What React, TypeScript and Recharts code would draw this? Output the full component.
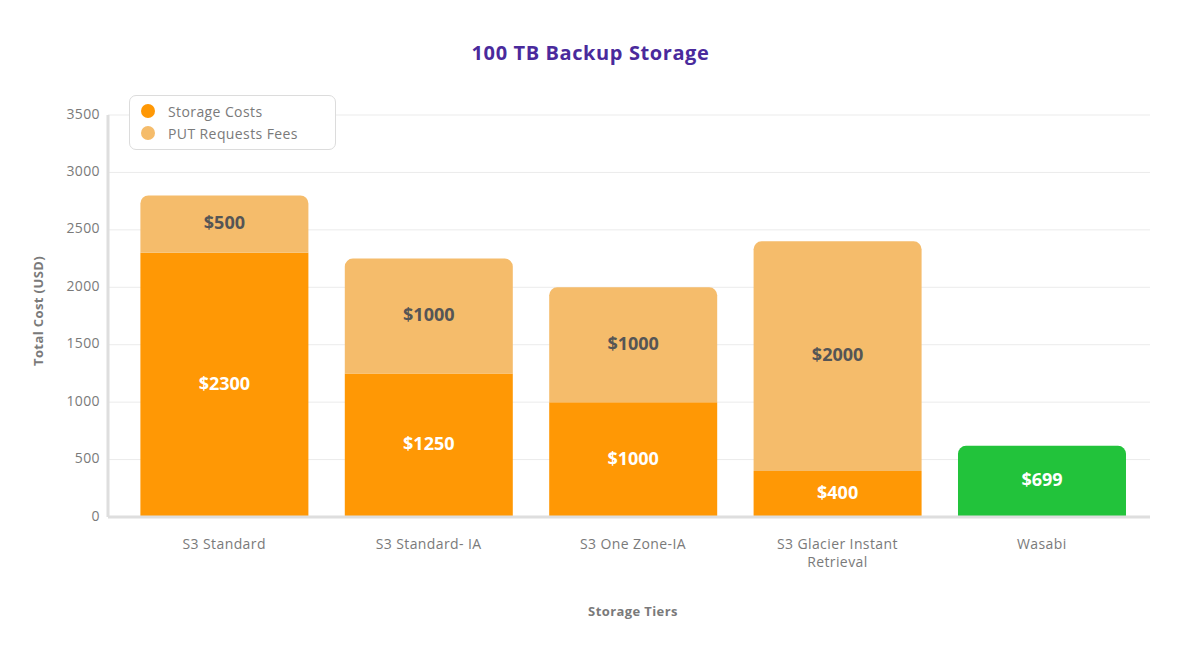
import React from 'react';
import { BarChart, Bar, XAxis, YAxis, CartesianGrid, LabelList } from 'recharts';

const categories = ['S3 Standard', 'S3 Standard- IA', 'S3 One Zone-IA', 'S3 Glacier Instant Retrieval', 'Wasabi'];
const storageCosts = [2300, 1250, 1000, 400, null];
const putFees = [500, 1000, 1000, 2000, null];
const wasabiDrawn = [null, null, null, null, 620];
const wasabiQuoted = [null, null, null, null, 699];
const yTicks = [0, 500, 1000, 1500, 2000, 2500, 3000, 3500];
const legendItems = ['Storage Costs', 'PUT Requests Fees'];

const FONT = '"Open Sans", sans-serif';
const C_STORAGE = '#FF9805';
const C_PUT = '#F5BC6B';
const C_WASABI = '#22C33B';
const legendColors = [C_STORAGE, C_PUT];

const data = categories.map((name, i) => ({
  name,
  storage: storageCosts[i],
  put: putFees[i],
  wasabi: wasabiDrawn[i],
  wasabiQuoted: wasabiQuoted[i],
}));

const wrap = (s: string, max: number) => {
  const words = s.split(' ');
  const lines: string[] = [];
  let cur = '';
  for (const w of words) {
    const t = cur ? cur + ' ' + w : w;
    if (t.length > max && cur) {
      lines.push(cur);
      cur = w;
    } else cur = t;
  }
  if (cur) lines.push(cur);
  return lines;
};

const XTick = (props: any) => {
  const { x, y, payload } = props;
  const lines = wrap(String(payload.value), 20);
  return (
    <text x={x} y={y + 24} textAnchor="middle" fill="#7a7a7a" fontSize={14} letterSpacing={0.4} fontFamily={FONT}>
      {lines.map((l, i) => (
        <tspan key={i} x={x} dy={i === 0 ? 0 : 18}>
          {l}
        </tspan>
      ))}
    </text>
  );
};

const YTick = (props: any) => {
  const { x, y, payload } = props;
  return (
    <text
      x={x}
      y={y - 2}
      textAnchor="end"
      dominantBaseline="central"
      fill="#7a7a7a"
      fontSize={14}
      letterSpacing={0.4}
      fontFamily={FONT}
    >
      {payload.value}
    </text>
  );
};

const makeLabel = (color: string) => (props: any) => {
  const { x, y, width, height, value } = props;
  if (value === null || value === undefined) return null;
  return (
    <text
      x={x + width / 2}
      y={y + height / 2 - 2}
      textAnchor="middle"
      dominantBaseline="central"
      fill={color}
      fontSize={18}
      fontWeight={700}
      fontFamily={FONT}
    >
      {'$' + value}
    </text>
  );
};

const LegendBox = () => (
  <div
    style={{
      position: 'absolute',
      left: 129,
      top: 95,
      border: '1px solid #dcdcdc',
      borderRadius: 7,
      width: 207,
      height: 55,
      boxSizing: 'border-box',
      padding: '4px 0 0 11px',
      fontFamily: FONT,
      fontSize: 14,
      letterSpacing: 0.4,
      color: '#7a7a7a',
      background: '#fff',
    }}
  >
    {legendItems.map((t, i) => (
      <div key={t} style={{ display: 'flex', alignItems: 'center', height: 22 }}>
        <span
          style={{
            width: 14,
            height: 14,
            borderRadius: 7,
            background: legendColors[i],
            display: 'inline-block',
            marginRight: 13,
          }}
        />
        <span>{t}</span>
      </div>
    ))}
  </div>
);

export default function App() {
  return (
    <div style={{ position: 'absolute', left: 0, top: 0, width: 1191, height: 653, background: '#fff' }}>
      <div
        style={{
          position: 'absolute',
          top: 39,
          left: 0,
          width: 1181,
          textAlign: 'center',
          fontFamily: FONT,
          fontWeight: 700,
          fontSize: 20,
          letterSpacing: 0.6,
          color: '#4A2A9C',
        }}
      >
        100 TB Backup Storage
      </div>
      <BarChart
        width={1191}
        height={653}
        data={data}
        margin={{ top: 115, right: 41, bottom: 106, left: 48 }}
        barCategoryGap="9%"
      >
        <CartesianGrid vertical={false} stroke="#ebebeb" strokeWidth={1} />
        <XAxis
          dataKey="name"
          height={30}
          interval={0}
          tickLine={false}
          axisLine={{ stroke: '#dedede', strokeWidth: 3 }}
          tick={<XTick />}
          padding={{ left: 14, right: 6 }}
          label={{
            content: () => (
              <text
                x={633}
                y={616}
                textAnchor="middle"
                fill="#7a7a7a"
                fontSize={13}
                fontWeight={700}
                letterSpacing={0.4}
                fontFamily={FONT}
              >
                Storage Tiers
              </text>
            ),
          }}
        />
        <YAxis
          width={60}
          domain={[0, 3500]}
          ticks={yTicks}
          tickLine={false}
          axisLine={{ stroke: '#dedede', strokeWidth: 3 }}
          tick={<YTick />}
          label={{
            content: () => (
              <text
                x={38}
                y={311}
                transform="rotate(-90 38 311)"
                textAnchor="middle"
                dominantBaseline="central"
                fill="#7a7a7a"
                fontSize={13}
                fontWeight={700}
                letterSpacing={0.4}
                fontFamily={FONT}
              >
                Total Cost (USD)
              </text>
            ),
          }}
        />
        <Bar dataKey="storage" stackId="a" fill={C_STORAGE} isAnimationActive={false}>
          <LabelList dataKey="storage" content={makeLabel('#ffffff')} />
        </Bar>
        <Bar dataKey="put" stackId="a" fill={C_PUT} radius={[8, 8, 0, 0]} isAnimationActive={false}>
          <LabelList dataKey="put" content={makeLabel('#555555')} />
        </Bar>
        <Bar dataKey="wasabi" stackId="a" fill={C_WASABI} radius={[8, 8, 0, 0]} isAnimationActive={false}>
          <LabelList dataKey="wasabiQuoted" content={makeLabel('#ffffff')} />
        </Bar>
      </BarChart>
      <LegendBox />
    </div>
  );
}
